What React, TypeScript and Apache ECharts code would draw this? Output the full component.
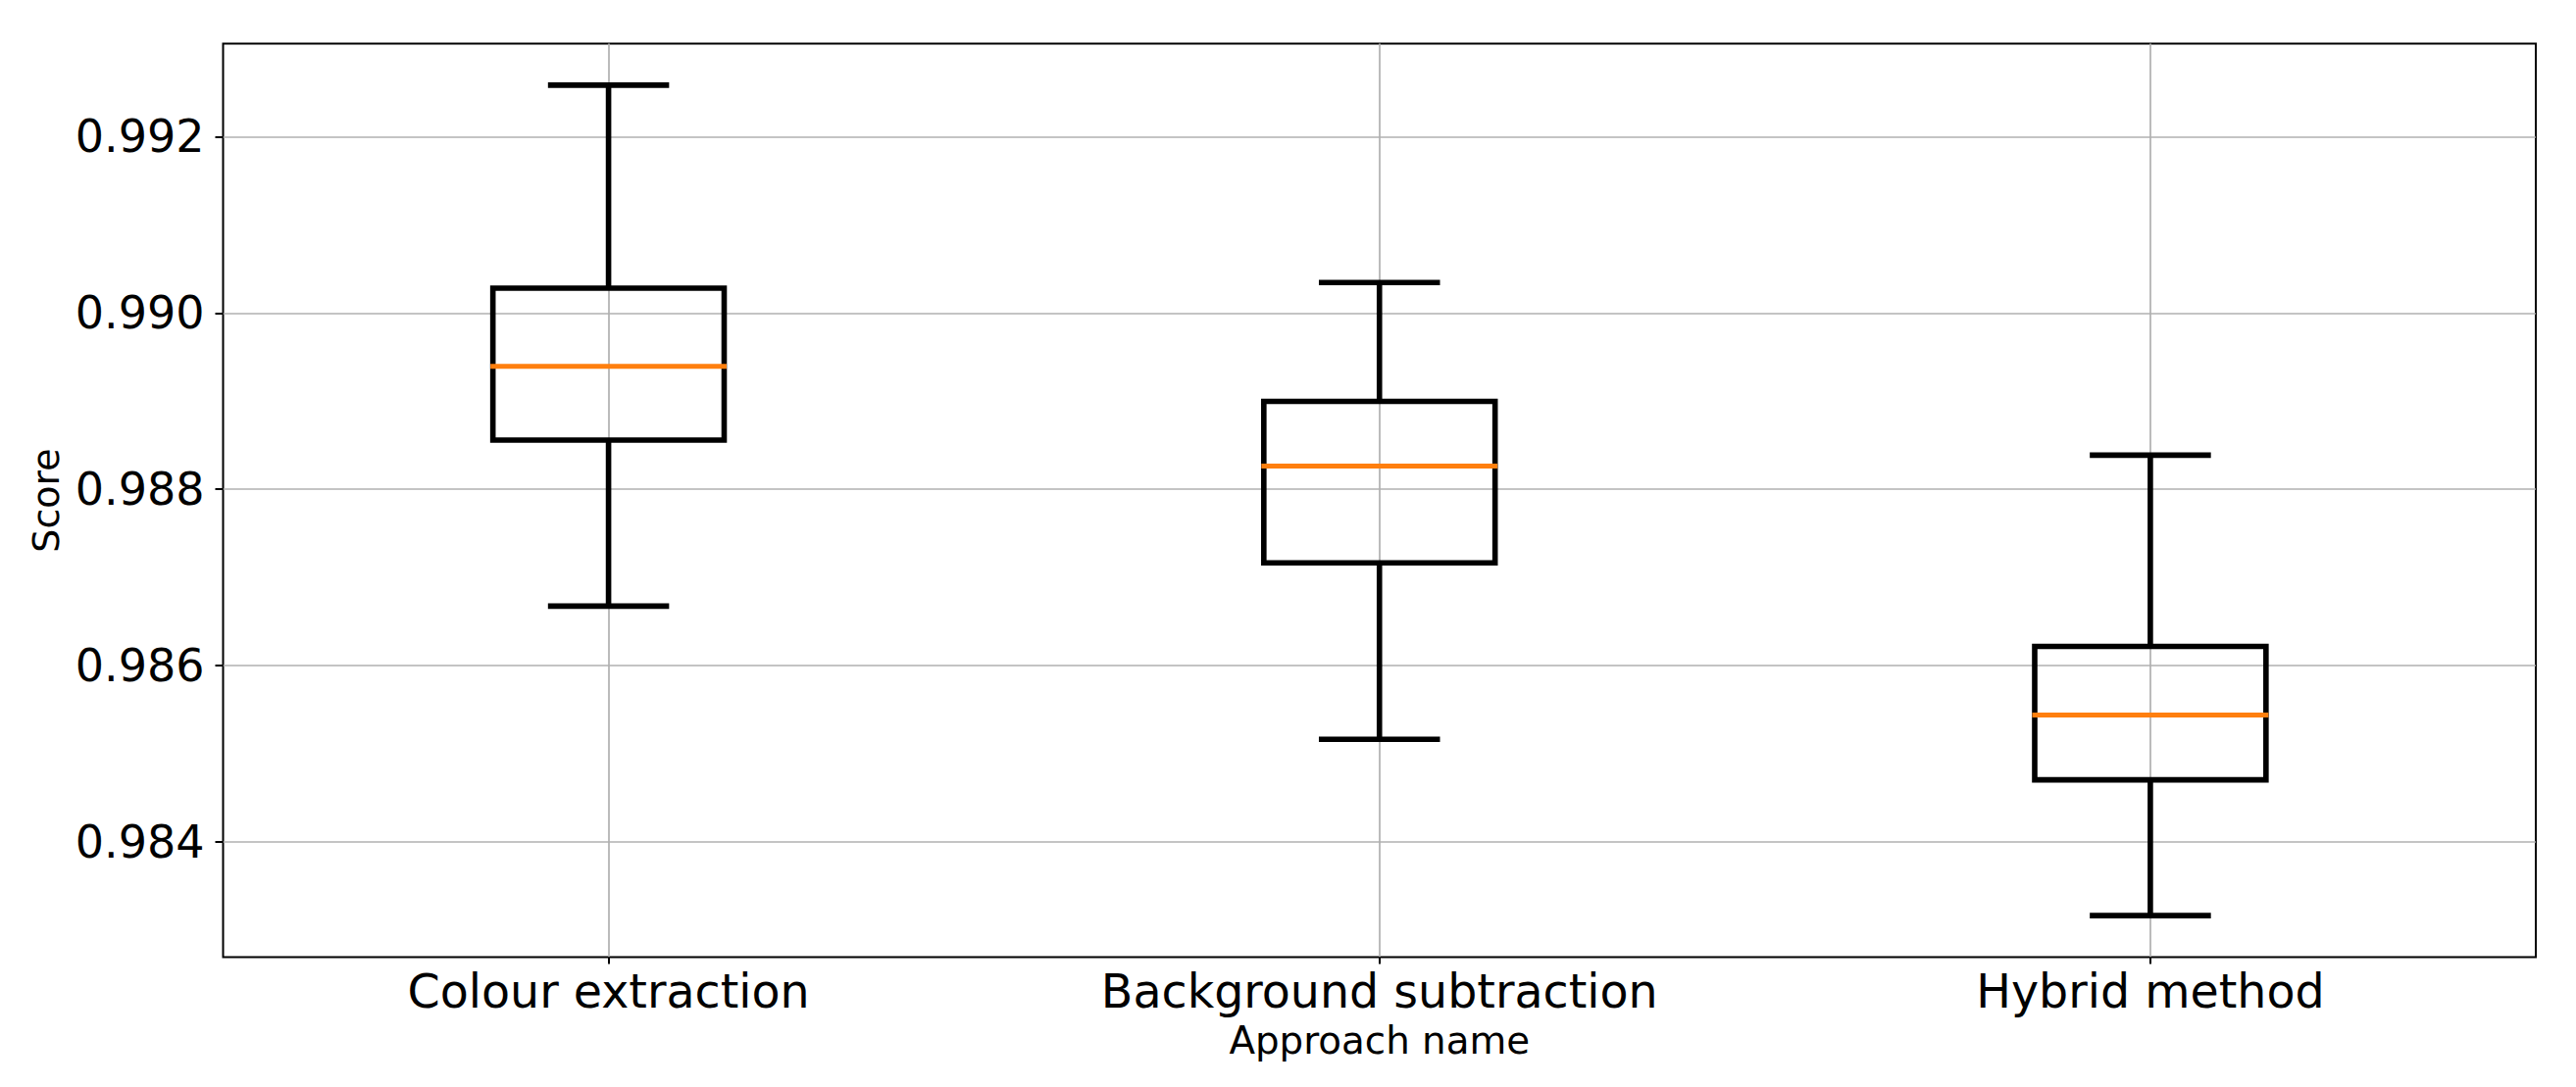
import React, { useEffect, useRef } from "react";
import * as echarts from "echarts";

const categories = ["Colour extraction", "Background subtraction", "Hybrid method"];
const whiskerLow = [0.986674, 0.985163, 0.983162];
const quartile1 = [0.988558, 0.987165, 0.984702];
const medians = [0.989393, 0.988263, 0.985438];
const quartile3 = [0.990281, 0.988997, 0.986217];
const whiskerHigh = [0.992585, 0.990346, 0.988387];
const yTicks = [0.984, 0.986, 0.988, 0.99, 0.992];
const xPositions = [1, 2, 3];

export default function App() {
  const ref = useRef<HTMLDivElement>(null);
  useEffect(() => {
    if (!ref.current) return;
    const chart = echarts.init(ref.current, null, { renderer: "svg" });
    const lo = Math.min(...whiskerLow);
    const hi = Math.max(...whiskerHigh);
    const pad = (hi - lo) * 0.05;
    const data = categories.map((_, i) => [
      xPositions[i],
      whiskerLow[i],
      quartile1[i],
      medians[i],
      quartile3[i],
      whiskerHigh[i],
    ]);
    const font = "DejaVu Sans";
    chart.setOption({
      animation: false,
      backgroundColor: "#ffffff",
      grid: {
        left: 227.5,
        right: 41,
        top: 44.5,
        bottom: 132.5,
        show: true,
        borderColor: "#000",
        borderWidth: 2,
        backgroundColor: "transparent",
      },
      xAxis: {
        type: "value",
        min: 0.5,
        max: 3.5,
        name: "Approach name",
        nameLocation: "middle",
        nameGap: 65,
        nameTextStyle: { fontFamily: font, fontSize: 38.8, color: "#000" },
        axisLine: { show: false },
        axisTick: {
          show: true,
          length: 7,
          lineStyle: { color: "#000", width: 2 },
          customValues: xPositions,
        },
        axisLabel: {
          customValues: xPositions,
          margin: 11,
          fontFamily: font,
          fontSize: 47.5,
          color: "#000",
          formatter: (v: number) => categories[Math.round(v) - 1] ?? "",
        },
        splitLine: { show: true, lineStyle: { color: "#b0b0b0", width: 1.7 } },
      },
      yAxis: {
        type: "value",
        min: lo - pad,
        max: hi + pad,
        name: "Score",
        nameLocation: "middle",
        nameGap: 160,
        nameTextStyle: { fontFamily: font, fontSize: 38, color: "#000" },
        axisLine: { show: false },
        axisTick: {
          show: true,
          length: 8,
          lineStyle: { color: "#000", width: 2 },
          customValues: yTicks,
        },
        axisLabel: {
          customValues: yTicks,
          margin: 19,
          fontFamily: font,
          fontSize: 46,
          color: "#000",
          formatter: (v: number) => v.toFixed(3),
        },
        splitLine: { show: true, lineStyle: { color: "#b0b0b0", width: 1.7 } },
      },
      series: [
        {
          type: "custom",
          data,
          encode: { x: 0, y: [1, 2, 3, 4, 5] },
          renderItem: (params: any, api: any) => {
            const x = api.value(0);
            const pLo = api.coord([x, api.value(1)]);
            const pQ1 = api.coord([x, api.value(2)]);
            const pMed = api.coord([x, api.value(3)]);
            const pQ3 = api.coord([x, api.value(4)]);
            const pHi = api.coord([x, api.value(5)]);
            const unit = api.size([1, 0])[0];
            const bw = unit * 0.3;
            const cw = bw / 2;
            const cx = pLo[0];
            const black = { stroke: "#000", lineWidth: 5.6, fill: "none" };
            const capStyle = { ...black, lineCap: "square" };
            return {
              type: "group",
              children: [
                { type: "line", shape: { x1: cx, y1: pQ3[1], x2: cx, y2: pHi[1] }, style: black },
                { type: "line", shape: { x1: cx, y1: pQ1[1], x2: cx, y2: pLo[1] }, style: black },
                { type: "line", shape: { x1: cx - cw / 2, y1: pHi[1], x2: cx + cw / 2, y2: pHi[1] }, style: capStyle },
                { type: "line", shape: { x1: cx - cw / 2, y1: pLo[1], x2: cx + cw / 2, y2: pLo[1] }, style: capStyle },
                {
                  type: "rect",
                  shape: { x: cx - bw / 2, y: pQ3[1], width: bw, height: pQ1[1] - pQ3[1] },
                  style: { stroke: "#000", lineWidth: 5.6, fill: "none", lineJoin: "miter" },
                },
                {
                  type: "line",
                  shape: { x1: cx - bw / 2, y1: pMed[1], x2: cx + bw / 2, y2: pMed[1] },
                  style: { stroke: "#ff7f0e", lineWidth: 5, lineCap: "square" },
                },
              ],
            };
          },
        },
      ],
    });
    return () => chart.dispose();
  }, []);
  return (
    <div
      ref={ref}
      style={{ position: "absolute", left: 0, top: 0, width: 2627, height: 1109, background: "#fff" }}
    />
  );
}
